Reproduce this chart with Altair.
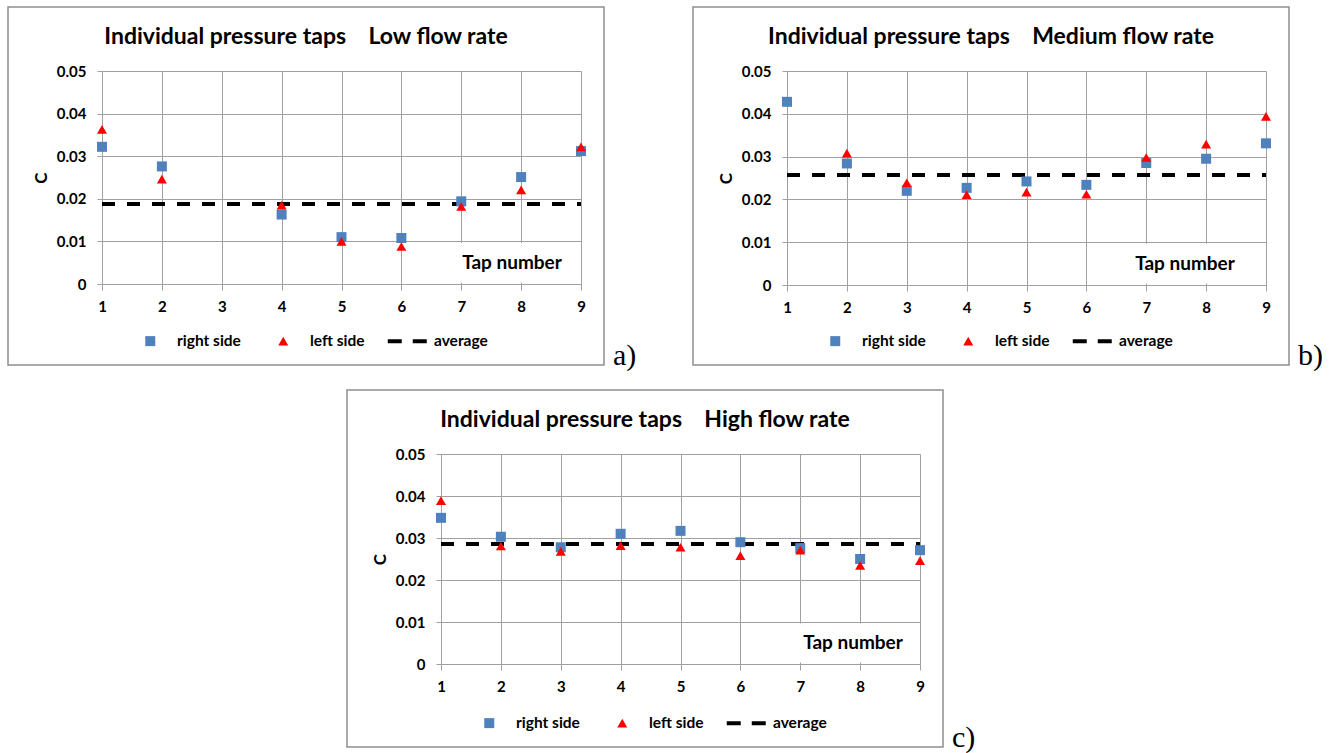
import altair as alt
import pandas as pd

# ---- data ----
taps = [1, 2, 3, 4, 5, 6, 7, 8, 9]
series_names = ["right side", "left side", "average"]

low_right = [0.0322, 0.0276, None, 0.0163, 0.0110, 0.0108, 0.0194, 0.0251, 0.0312]
low_left = [0.0363, 0.0246, None, 0.0185, 0.0100, 0.0088, 0.0182, 0.0221, 0.0322]
low_avg = 0.0188

med_right = [0.0428, 0.0284, 0.0220, 0.0227, 0.0242, 0.0234, 0.0285, 0.0295, 0.0331]
med_left = [None, 0.0308, 0.0239, 0.0211, 0.0217, 0.0212, 0.0298, 0.0329, 0.0394]
med_avg = 0.0257

high_right = [0.0348, 0.0303, 0.0278, 0.0310, 0.0317, 0.0290, 0.0276, 0.0250, 0.0271]
high_left = [0.0389, 0.0281, 0.0268, 0.0282, 0.0278, 0.0258, 0.0271, 0.0235, 0.0246]
high_avg = 0.0286

y_ticks = [0, 0.01, 0.02, 0.03, 0.04, 0.05]
GAP = "\u00a0\u00a0\u00a0 "
titles = [
    "Individual pressure taps" + GAP + "Low flow rate",
    "Individual pressure taps" + GAP + "Medium flow rate",
    "Individual pressure taps" + GAP + "High flow rate",
]
letters = ["a)", "b)", "c)"]
x_title = "Tap number"
y_title = "C"

# ---- styling ----
FONT = "Lato"
SERIF = "Liberation Serif"
BLUE = "#4F81BD"
RED = "#FF0000"
GRID = "#A0A0A0"
FRAME = "#8E8E8E"
W = 479
# legend/marker symbols; the leading "M-3.9,0" only widens the symbol bounds so
# that every legend entry has the same footprint as the dashed-line symbol
SQUARE_PATH = "M-3.9,0M-1,-1H1V1H-1Z"
TRI_PATH = "M-3.9,0M0,-0.866L1,0.866L-1,0.866Z"
DASH_PATH = "M-3.9,-0.4H-1.1V0.4H-3.9Z M1.1,-0.4H3.9V0.4H1.1Z"


def panel(title, right, left, avg, letter, h, ftop, fbot, tapx):
    rows = []
    for t, r, l in zip(taps, right, left):
        if r is not None:
            rows.append({"tap": t, "C": r, "series": "right side"})
        if l is not None:
            rows.append({"tap": t, "C": l, "series": "left side"})
    pts = pd.DataFrame(rows)
    avg_df = pd.DataFrame({"tap": [taps[0]], "tap2": [taps[-1]], "C": [avg]})

    xscale = alt.Scale(domain=[taps[0], taps[-1]], nice=False, zero=False)
    yscale = alt.Scale(domain=[y_ticks[0], y_ticks[-1]], nice=False, zero=True)

    xaxis = alt.Axis(
        values=taps, format="d", title=None, grid=True, gridColor=GRID, gridWidth=1,
        domainColor=GRID, tickColor=GRID, tickSize=6, labelFont=FONT, labelFontSize=15,
        labelFontWeight="bold", labelColor="black", labelPadding=9, labelFlush=False,
        labelOverlap=False,
    )
    yaxis = alt.Axis(
        values=y_ticks, labelExpr="datum.value == 0 ? '0' : format(datum.value, '.2f')",
        title=y_title, titleFont=FONT, titleFontSize=17, titleFontWeight="bold",
        titleColor="black", titleX=-61, titleY=h / 2, titleBaseline="middle",
        titleAlign="center", titleAngle=270,
        grid=True, gridColor=GRID, gridWidth=1, domainColor=GRID, tickColor=GRID,
        tickSize=5, labelFont=FONT, labelFontSize=15, labelFontWeight="bold",
        labelColor="black", labelPadding=11,
    )

    one = pd.DataFrame({"label": [title]})
    frame = alt.Chart(one).mark_rect(fillOpacity=0, stroke=FRAME, strokeWidth=1.5).encode(
        x=alt.value(-94), x2=alt.value(502), y=alt.value(ftop), y2=alt.value(fbot)
    )
    ttl = alt.Chart(one).mark_text(
        font=FONT, fontSize=23, fontWeight="bold", align="center", baseline="alphabetic",
        color="black",
    ).encode(x=alt.value(204), y=alt.value(ftop + 37), text="label:N")

    avg_line = alt.Chart(avg_df).mark_rule(
        color="black", strokeWidth=4, strokeDash=[13, 12]
    ).encode(
        x=alt.X("tap:Q", scale=xscale, axis=xaxis),
        x2="tap2:Q",
        y=alt.Y("C:Q", scale=yscale, axis=yaxis),
    )

    legend = alt.Legend(
        orient="none", legendX=40.5, legendY=fbot - 32, direction="horizontal", columns=3,
        columnPadding=22, labelOffset=19, symbolSize=100, symbolStrokeWidth=0,
        labelFont=FONT, labelFontSize=15.5, labelFontWeight="bold", labelColor="black",
        title=None, padding=0,
    )
    points = alt.Chart(pts).mark_point(filled=True, opacity=1, size=100).encode(
        x=alt.X("tap:Q", scale=xscale, axis=xaxis),
        y=alt.Y("C:Q", scale=yscale, axis=yaxis),
        color=alt.Color("series:N", scale=alt.Scale(domain=series_names, range=[BLUE, RED, "black"]), legend=legend),
        shape=alt.Shape("series:N", scale=alt.Scale(domain=series_names, range=[SQUARE_PATH, TRI_PATH, DASH_PATH]), legend=legend),
    )

    tapdf = pd.DataFrame({"label": [x_title]})
    box = alt.Chart(tapdf).mark_rect(fill="white").encode(
        x=alt.value(tapx - 57), x2=alt.value(tapx + 57),
        y=alt.value(0.8 * h + 1.5), y2=alt.value(h - 1.5),
    )
    taptxt = alt.Chart(tapdf).mark_text(
        font=FONT, fontSize=19, fontWeight="bold", align="center", baseline="middle",
        color="black",
    ).encode(x=alt.value(tapx), y=alt.value(0.9 * h), text="label:N")

    lett = alt.Chart(pd.DataFrame({"label": [letter]})).mark_text(
        font=SERIF, fontSize=30, align="left", baseline="alphabetic", color="black",
    ).encode(x=alt.value(511), y=alt.value(fbot), text="label:N")

    return alt.layer(frame, avg_line, points, box, taptxt, ttl, lett).properties(width=W, height=h)


pa = panel(titles[0], low_right, low_left, low_avg, letters[0], 213, -64, 294, 410)
pb = panel(titles[1], med_right, med_left, med_avg, letters[1], 214, -64, 294, 398)
pc = panel(titles[2], high_right, high_left, high_avg, letters[2], 210, -64, 293, 412)

# empty 1x1 view used only to indent the bottom panel
spacer = alt.Chart(pd.DataFrame({"label": [""]})).mark_text().encode(
    text="label:N", x=alt.value(0), y=alt.value(0)
).properties(width=1, height=1)


def indep(c):
    return c.resolve_scale(color="independent", shape="independent").resolve_legend(
        color="independent", shape="independent"
    )


top = indep(alt.hconcat(pa, pb, spacing=54))
bottom = indep(alt.hconcat(spacer, pc, spacing=241))
chart = indep(alt.vconcat(top, bottom, spacing=16)).properties(
    padding={"left": 6, "top": 5, "right": 0, "bottom": 0},
    background="white",
).configure_view(stroke="transparent")

chart.save("out.html", embed_options={"renderer": "svg", "actions": False})
